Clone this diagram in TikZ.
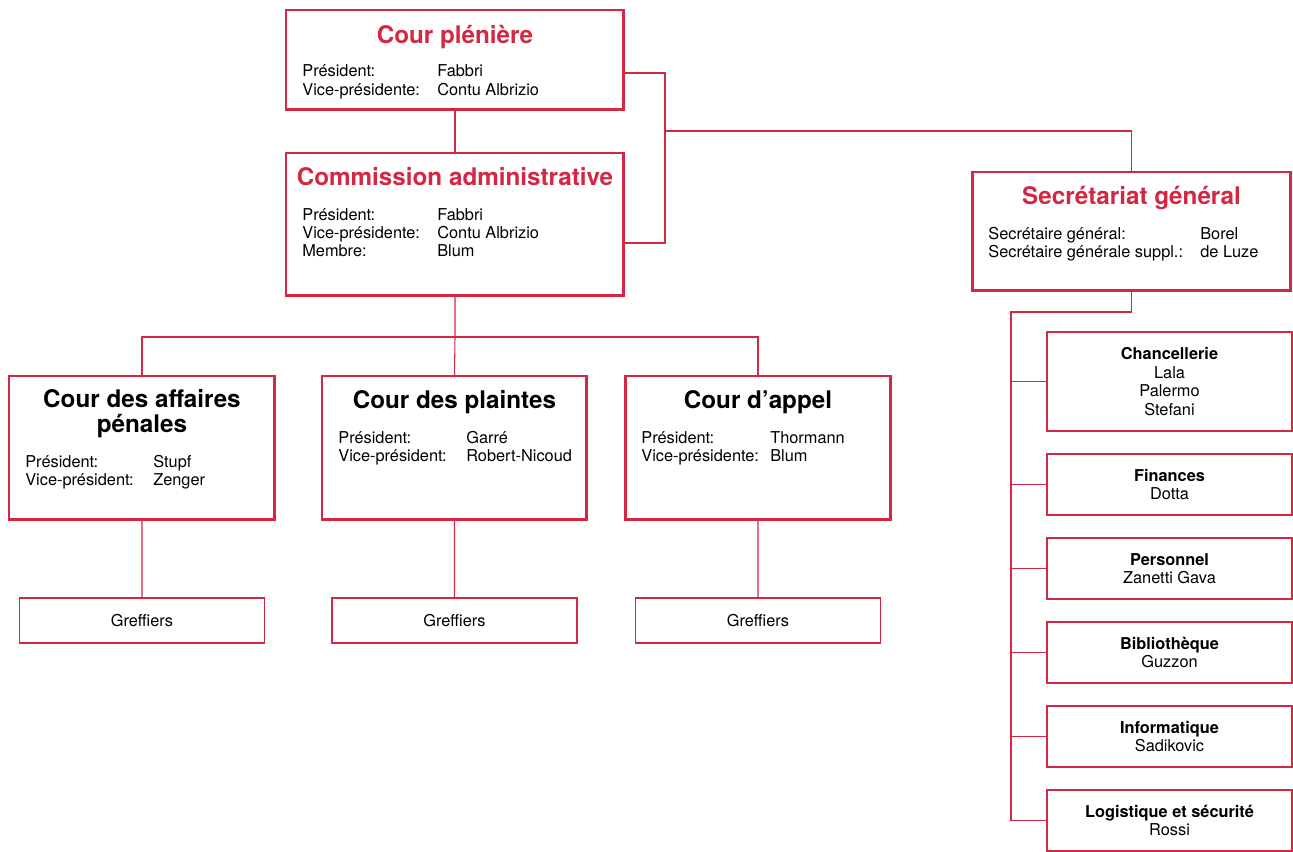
\documentclass[tikz,border=0pt]{standalone}
\usepackage{fontspec}
\setmainfont{TeX Gyre Heros}
\usetikzlibrary{calc}

\definecolor{ocred}{RGB}{211,39,66}
\newcommand{\titlefont}{\fontsize{13.8}{14.2}\selectfont\bfseries}
\newcommand{\bodyfont}{\fontsize{9.3}{10.5}\selectfont}

\tikzset{
  bigbox/.style={draw=ocred, line width=1.7pt, anchor=north west, inner sep=0pt, outer sep=0pt},
  smallbox/.style={draw=ocred, line width=0.9pt, inner sep=0pt, outer sep=0pt, align=center,
    font=\bodyfont, minimum width=4.9cm},
  conn/.style={draw=ocred, line width=0.6pt},
  redtitle/.style={anchor=base, text=ocred, font=\titlefont},
  blacktitle/.style={anchor=base, font=\titlefont, align=center},
  info/.style={anchor=base west, inner sep=0pt, font=\bodyfont},
}

\begin{document}
\begin{tikzpicture}[x=0.02cm, y=-0.02cm]
    \useasboundingbox (0,0) rectangle (1293,851);

    % top boxes
    \node[bigbox, minimum width=6.76cm, minimum height=2cm] (cp) at (286,10) {};
    \node[redtitle] (cpt) at ($ (cp.north) + (0,34) $) {Cour plénière};
    \node[info] (cpi) at ($ (cp.north west) + (16,67) $)
        {\begin{tabular}[t]{@{}p{2.7cm}@{}l@{}}Président: & Fabbri\\ Vice-présidente: & Contu Albrizio\end{tabular}};

    \node[bigbox, minimum width=6.76cm, minimum height=2.86cm] (ca) at (286,153) {};
    \node[redtitle] (cat) at ($ (ca.north) + (0,33) $) {Commission administrative};
    \node[info] (cai) at ($ (ca.north west) + (16,67) $)
        {\begin{tabular}[t]{@{}p{2.7cm}@{}l@{}}Président: & Fabbri\\ Vice-présidente: & Contu Albrizio\\ Membre: & Blum\end{tabular}};

    \node[bigbox, minimum width=6.38cm, minimum height=2.38cm] (sg) at (972,172) {};
    \node[redtitle] (sgt) at ($ (sg.north) + (0,32) $) {Secrétariat général};
    \node[info] (sgi) at ($ (sg.north west) + (16,67) $)
        {\begin{tabular}[t]{@{}p{4.24cm}@{}l@{}}Secrétaire général: & Borel\\ Secrétaire générale suppl.: & de Luze\end{tabular}};

    % courts
    \node[bigbox, minimum width=5.32cm, minimum height=2.88cm] (cap) at (9,376) {};
    \node[blacktitle] (capt) at ($ (cap.north) + (0,56) $) {Cour des affaires\\pénales};
    \node[info] (capi) at ($ (cap.north west) + (16,91) $)
        {\begin{tabular}[t]{@{}p{2.56cm}@{}l@{}}Président: & Stupf\\ Vice-président: & Zenger\end{tabular}};

    \node[bigbox, minimum width=5.3cm, minimum height=2.88cm] (cdp) at (322,376) {};
    \node[blacktitle] (cdpt) at ($ (cdp.north) + (0,32) $) {Cour des plaintes};
    \node[info] (cdpi) at ($ (cdp.north west) + (16,67) $)
        {\begin{tabular}[t]{@{}p{2.56cm}@{}l@{}}Président: & Garré\\ Vice-président: & Robert-Nicoud\end{tabular}};

    \node[bigbox, minimum width=5.32cm, minimum height=2.88cm] (cda) at (625,376) {};
    \node[blacktitle] (cdat) at ($ (cda.north) + (0,32) $) {Cour d’appel};
    \node[info] (cdai) at ($ (cda.north west) + (16,67) $)
        {\begin{tabular}[t]{@{}p{2.58cm}@{}l@{}}Président: & Thormann\\ Vice-présidente: & Blum\end{tabular}};

    % clerks
    \node[smallbox, minimum height=0.9cm] (gcap) at (142,620.5) {Greffiers};
    \node[smallbox, minimum height=0.9cm] (gcdp) at (454.5,620.5) {Greffiers};
    \node[smallbox, minimum height=0.9cm] (gcda) at (758,620.5) {Greffiers};

    % services
    \node[smallbox, minimum height=1.98cm] (chan) at (1169.5,381.5) {\textbf{Chancellerie}\\Lala\\Palermo\\Stefani};
    \node[smallbox, minimum height=1.22cm] (fin) at (1169.5,484.5) {\textbf{Finances}\\Dotta};
    \node[smallbox, minimum height=1.22cm] (pers) at (1169.5,568.5) {\textbf{Personnel}\\Zanetti Gava};
    \node[smallbox, minimum height=1.22cm] (bib) at (1169.5,652.5) {\textbf{Bibliothèque}\\Guzzon};
    \node[smallbox, minimum height=1.22cm] (inf) at (1169.5,736.5) {\textbf{Informatique}\\Sadikovic};
    \node[smallbox, minimum height=1.22cm] (log) at (1169.5,820.5) {\textbf{Logistique et sécurité}\\Rossi};

    % connectors
    \coordinate (jn) at (665,131);
    \coordinate (bus) at (455,337);
    \coordinate (spine) at (1011,312);

    \draw[conn] (cp.south) -- (ca.north);
    \draw[conn] ($ (cp.north east) + (0,63) $) -| (jn) |- ($ (ca.north east) + (0,90) $);
    \draw[conn] (jn) -| (sg.north);

    \draw[conn] (ca.south) -- (bus);
    \draw[conn] (cap.north) |- (bus) -| (cda.north);
    \draw[conn] (bus) -- (cdp.north);

    \draw[conn] (cap.south) -- (gcap.north);
    \draw[conn] (cdp.south) -- (gcdp.north);
    \draw[conn] (cda.south) -- (gcda.north);

    \draw[conn] (sg.south) |- (spine) |- (log.west);
    \foreach \s in {chan, fin, pers, bib, inf}
        \draw[conn] (spine |- \s.west) -- (\s.west);

\end{tikzpicture}
\end{document}
